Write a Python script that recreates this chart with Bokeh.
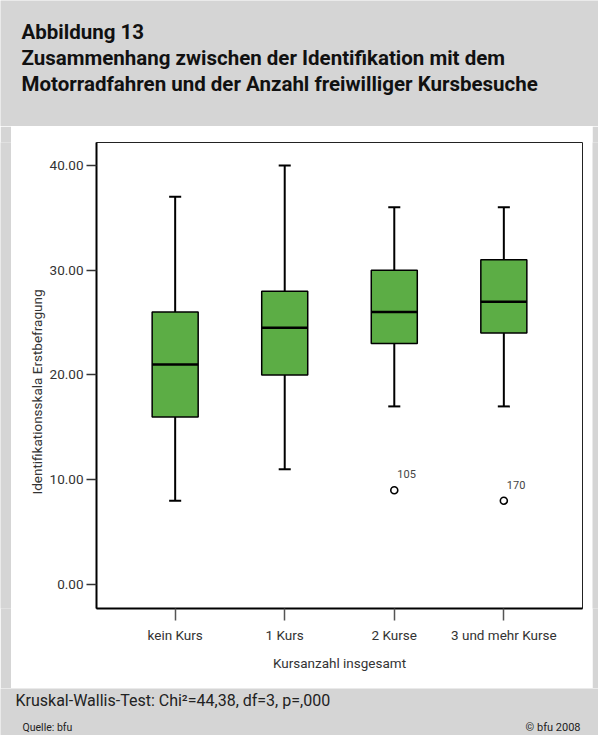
import math
from bokeh.plotting import figure
from bokeh.layouts import column, row
from bokeh.models import Range1d, Label, FixedTicker, ColumnDataSource, Title
from bokeh.embed import file_html
from bokeh.resources import INLINE
from bokeh.core.properties import value

# ---------------- data ----------------
categories = ["kein Kurs", "1 Kurs", "2 Kurse", "3 und mehr Kurse"]
whisker_low = [8, 11, 17, 17]
q1 = [16, 20, 23, 24]
median = [21, 24.5, 26, 27]
q3 = [26, 28, 30, 31]
whisker_high = [37, 40, 36, 36]
outlier_cat = [2, 3]
outlier_val = [9, 8]
outlier_id = ["105", "170"]
y_ticks = [0, 10, 20, 30, 40]

title_lines = [
    "Abbildung 13",
    "Zusammenhang zwischen der Identifikation mit dem",
    "Motorradfahren und der Anzahl freiwilliger Kursbesuche",
]
note_text = "Kruskal-Wallis-Test: Chi\u00b2=44,38, df=3, p=,000"
source_text = "Quelle: bfu"
copyright_text = "\u00a9 bfu 2008"
x_title = "Kursanzahl insgesamt"
y_title = "Identifikationsskala Erstbefragung"

# ---------------- style ----------------
FONT = "Roboto"
GRAY = "#d5d5d5"
GREEN = "#5cad45"
W = 598


def blank(width, height, xr, yr):
    f = figure(width=width, height=height, x_range=xr, y_range=yr,
               x_axis_type=None, y_axis_type=None, toolbar_location=None,
               output_backend="svg", min_border=0)
    f.outline_line_color = None
    f.background_fill_color = GRAY
    f.border_fill_color = GRAY
    return f


# ---------------- title ----------------
title_fig = blank(W, 126, Range1d(0, W), Range1d(126, 0))
for i, line in enumerate(title_lines):
    title_fig.add_layout(Label(x=21, y=31 + 26 * i, text=line,
                               text_font=FONT, text_font_style="bold",
                               text_font_size="20.5px", text_color="#111111",
                               text_baseline="alphabetic"))

# ---------------- main plot ----------------
x_idx = list(range(len(categories)))
src = ColumnDataSource(dict(
    x=x_idx, q1=q1, q3=q3, med=median, lo=whisker_low, hi=whisker_high,
    cap_l=[v - 0.055 for v in x_idx], cap_r=[v + 0.055 for v in x_idx],
    med_l=[v - 0.21 for v in x_idx], med_r=[v + 0.21 for v in x_idx],
))
out_src = ColumnDataSource(dict(x=outlier_cat, y=outlier_val, label=outlier_id))

p = figure(width=581, height=562,
           x_range=Range1d(-0.718, 3.718), y_range=Range1d(-2.29, 42.19),
           toolbar_location=None, output_backend="svg",
           min_border_left=85, min_border_right=10,
           min_border_top=16, min_border_bottom=80)
p.background_fill_color = "white"
p.border_fill_color = "white"
p.outline_line_color = "#222222"
p.outline_line_width = 1
p.grid.visible = False

# whiskers
p.segment(x0="x", y0="q3", x1="x", y1="hi", source=src, line_color="black", line_width=2)
p.segment(x0="x", y0="q1", x1="x", y1="lo", source=src, line_color="black", line_width=2)
p.segment(x0="cap_l", y0="hi", x1="cap_r", y1="hi", source=src, line_color="black", line_width=2)
p.segment(x0="cap_l", y0="lo", x1="cap_r", y1="lo", source=src, line_color="black", line_width=2)
# boxes
p.vbar(x="x", bottom="q1", top="q3", width=0.42, source=src,
       fill_color=GREEN, line_color="black", line_width=1.5)
p.segment(x0="med_l", y0="med", x1="med_r", y1="med", source=src,
          line_color="black", line_width=2.5)
# outliers
p.scatter(x="x", y="y", source=out_src, size=7, marker="circle",
          fill_color="white", line_color="black", line_width=1.6)
p.text(x="x", y="y", text="label", source=out_src, x_offset=3, y_offset=-16,
       text_font=value(FONT), text_font_size="11px", text_color="#444444",
       text_baseline="middle", text_align="left")

# axes
p.xaxis.ticker = FixedTicker(ticks=x_idx)
p.xaxis.major_label_overrides = {i: c for i, c in enumerate(categories)}
p.xaxis.axis_label = x_title
p.yaxis.ticker = FixedTicker(ticks=y_ticks)
p.yaxis.major_label_overrides = {t: f"{t:.2f}" for t in y_ticks}
for ax in (p.xaxis, p.yaxis):
    ax.minor_tick_line_color = None
    ax.major_tick_in = 0
    ax.axis_line_color = "black"
    ax.axis_line_width = 2
    ax.major_label_text_font = FONT
    ax.major_label_text_font_size = "13.5px"
    ax.major_label_text_color = "#333333"
    ax.axis_label_text_font = FONT
    ax.axis_label_text_font_size = "13.5px"
    ax.axis_label_text_font_style = "normal"
    ax.axis_label_text_color = "#333333"
p.xaxis.major_tick_out = 12
p.xaxis.major_tick_line_color = "#555555"
p.xaxis.major_tick_line_width = 1.5
p.xaxis.major_label_standoff = 6
p.xaxis.axis_label_standoff = 9
p.yaxis.major_tick_out = 10
p.yaxis.major_tick_line_color = "#333333"
p.yaxis.major_tick_line_width = 1.5
p.yaxis.major_label_standoff = 3

# y-axis title, placed in the left panel (shifted slightly downward as in the original)
p.add_layout(Title(text=y_title, align="left", offset=114, standoff=3,
                   text_font=FONT, text_font_size="13.5px",
                   text_font_style="normal", text_color="#333333"), "left")

left_pad = blank(11, 562, Range1d(0, 1), Range1d(0, 1))
right_pad = blank(6, 562, Range1d(0, 1), Range1d(0, 1))

# ---------------- footer ----------------
foot = blank(W, 47, Range1d(0, W), Range1d(735, 688))
foot.add_layout(Label(x=15, y=700, text=note_text, text_font=FONT,
                      text_font_size="16px", text_color="#222222",
                      text_baseline="alphabetic"))
foot.add_layout(Label(x=22, y=727, text=source_text, text_font=FONT,
                      text_font_size="10.5px", text_color="#222222",
                      text_baseline="alphabetic"))
foot.add_layout(Label(x=580, y=727, text=copyright_text, text_font=FONT,
                      text_font_size="11px", text_color="#222222",
                      text_baseline="alphabetic", text_align="right"))

layout = column(title_fig, row(left_pad, p, right_pad, spacing=0), foot, spacing=0)

with open("out.html", "w") as fh:
    fh.write(file_html(layout, INLINE))
